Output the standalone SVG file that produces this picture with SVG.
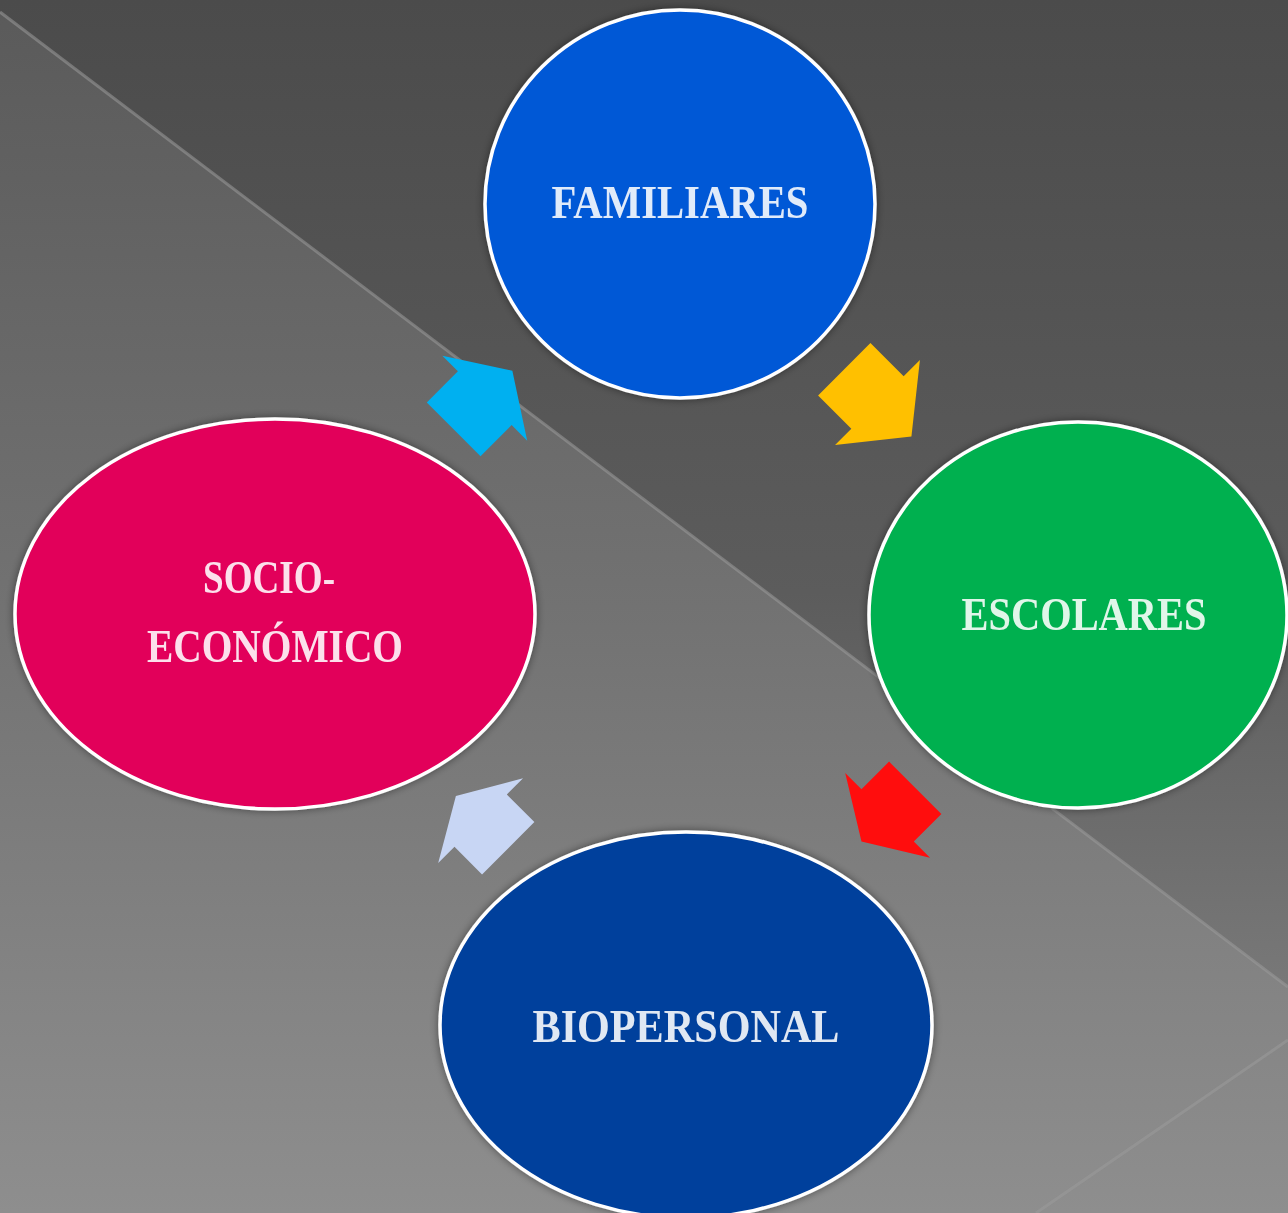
<svg xmlns="http://www.w3.org/2000/svg" width="1288" height="1213" viewBox="0 0 1288 1213">
<defs>
<linearGradient id="bgLight" x1="0" y1="0" x2="0" y2="1">
<stop offset="0" stop-color="#5a5a5a"/>
<stop offset="0.5" stop-color="#727272"/>
<stop offset="1" stop-color="#8e8e8e"/>
</linearGradient>
<linearGradient id="bgDark" x1="0" y1="0" x2="0" y2="1">
<stop offset="0" stop-color="#4b4b4b"/>
<stop offset="0.6" stop-color="#5c5c5c"/>
<stop offset="1" stop-color="#787878"/>
</linearGradient>
<filter id="sh" x="-10%" y="-10%" width="120%" height="120%">
<feGaussianBlur in="SourceAlpha" stdDeviation="4"/>
<feOffset dx="0" dy="0" result="b"/>
<feComponentTransfer><feFuncA type="linear" slope="0.45"/></feComponentTransfer>
<feMerge><feMergeNode/><feMergeNode in="SourceGraphic"/></feMerge>
</filter>
</defs>
<style>
.node ellipse { stroke: #ffffff; stroke-width: 3.5; }
.lbl { font-family: "Liberation Serif", "DejaVu Serif", serif; font-weight: bold; font-size: 46px; fill: #ffffff; fill-opacity: 0.88; text-anchor: middle; }
.bgline { fill: none; stroke: #9a9a9a; stroke-opacity: 0.55; stroke-width: 3; }
</style>

<g id="background">
<rect x="0" y="0" width="1288" height="1213" fill="url(#bgLight)"/>
<path d="M0,0 L1288,0 L1288,987 L0,12 Z" fill="url(#bgDark)"/>
<path class="bgline" d="M0,12 L1288,987"/>
<path class="bgline" d="M1288,1040 L1036,1213"/>
</g>

<g id="connectors">
<g transform="translate(869,394) rotate(45)"><path d="M-35,-37 L12,-37 L12,-60 L60,0 L12,60 L12,37 L-35,37 Z" fill="#ffc000"/></g>
<g transform="translate(894,809) rotate(135)"><path d="M-30,-37 L9,-37 L9,-60 L46,0 L9,60 L9,37 L-30,37 Z" fill="#ff0d0d"/></g>
<g transform="translate(487,827) rotate(-135)"><path d="M-30,-37 L9,-37 L9,-60 L44,0 L9,60 L9,37 L-30,37 Z" fill="#c8d6f4"/></g>
<g transform="translate(477,406) rotate(-45)"><path d="M-33,-38 L11,-38 L11,-60 L50,0 L11,60 L11,38 L-33,38 Z" fill="#00b0f0"/></g>
</g>

<g id="familiares" class="node" filter="url(#sh)">
<ellipse cx="680" cy="204" rx="195" ry="194" fill="#0458d6"/>
<text class="lbl" x="680" y="218" textLength="257" lengthAdjust="spacingAndGlyphs">FAMILIARES</text>
</g>

<g id="escolares" class="node" filter="url(#sh)">
<ellipse cx="1078" cy="615" rx="209" ry="193" fill="#00b04f"/>
<text class="lbl" x="1084" y="630" textLength="245" lengthAdjust="spacingAndGlyphs">ESCOLARES</text>
</g>

<g id="biopersonal" class="node" filter="url(#sh)">
<ellipse cx="686" cy="1025" rx="246" ry="193" fill="#03409c"/>
<text class="lbl" x="686" y="1042" textLength="307" lengthAdjust="spacingAndGlyphs">BIOPERSONAL</text>
</g>

<g id="socioeconomico" class="node" filter="url(#sh)">
<ellipse cx="275" cy="614" rx="260" ry="195" fill="#e2005a"/>
<text class="lbl" x="269" y="593" textLength="132" lengthAdjust="spacingAndGlyphs">SOCIO-</text>
<text class="lbl" x="275" y="662" textLength="256" lengthAdjust="spacingAndGlyphs">ECONÓMICO</text>
</g>
</svg>
